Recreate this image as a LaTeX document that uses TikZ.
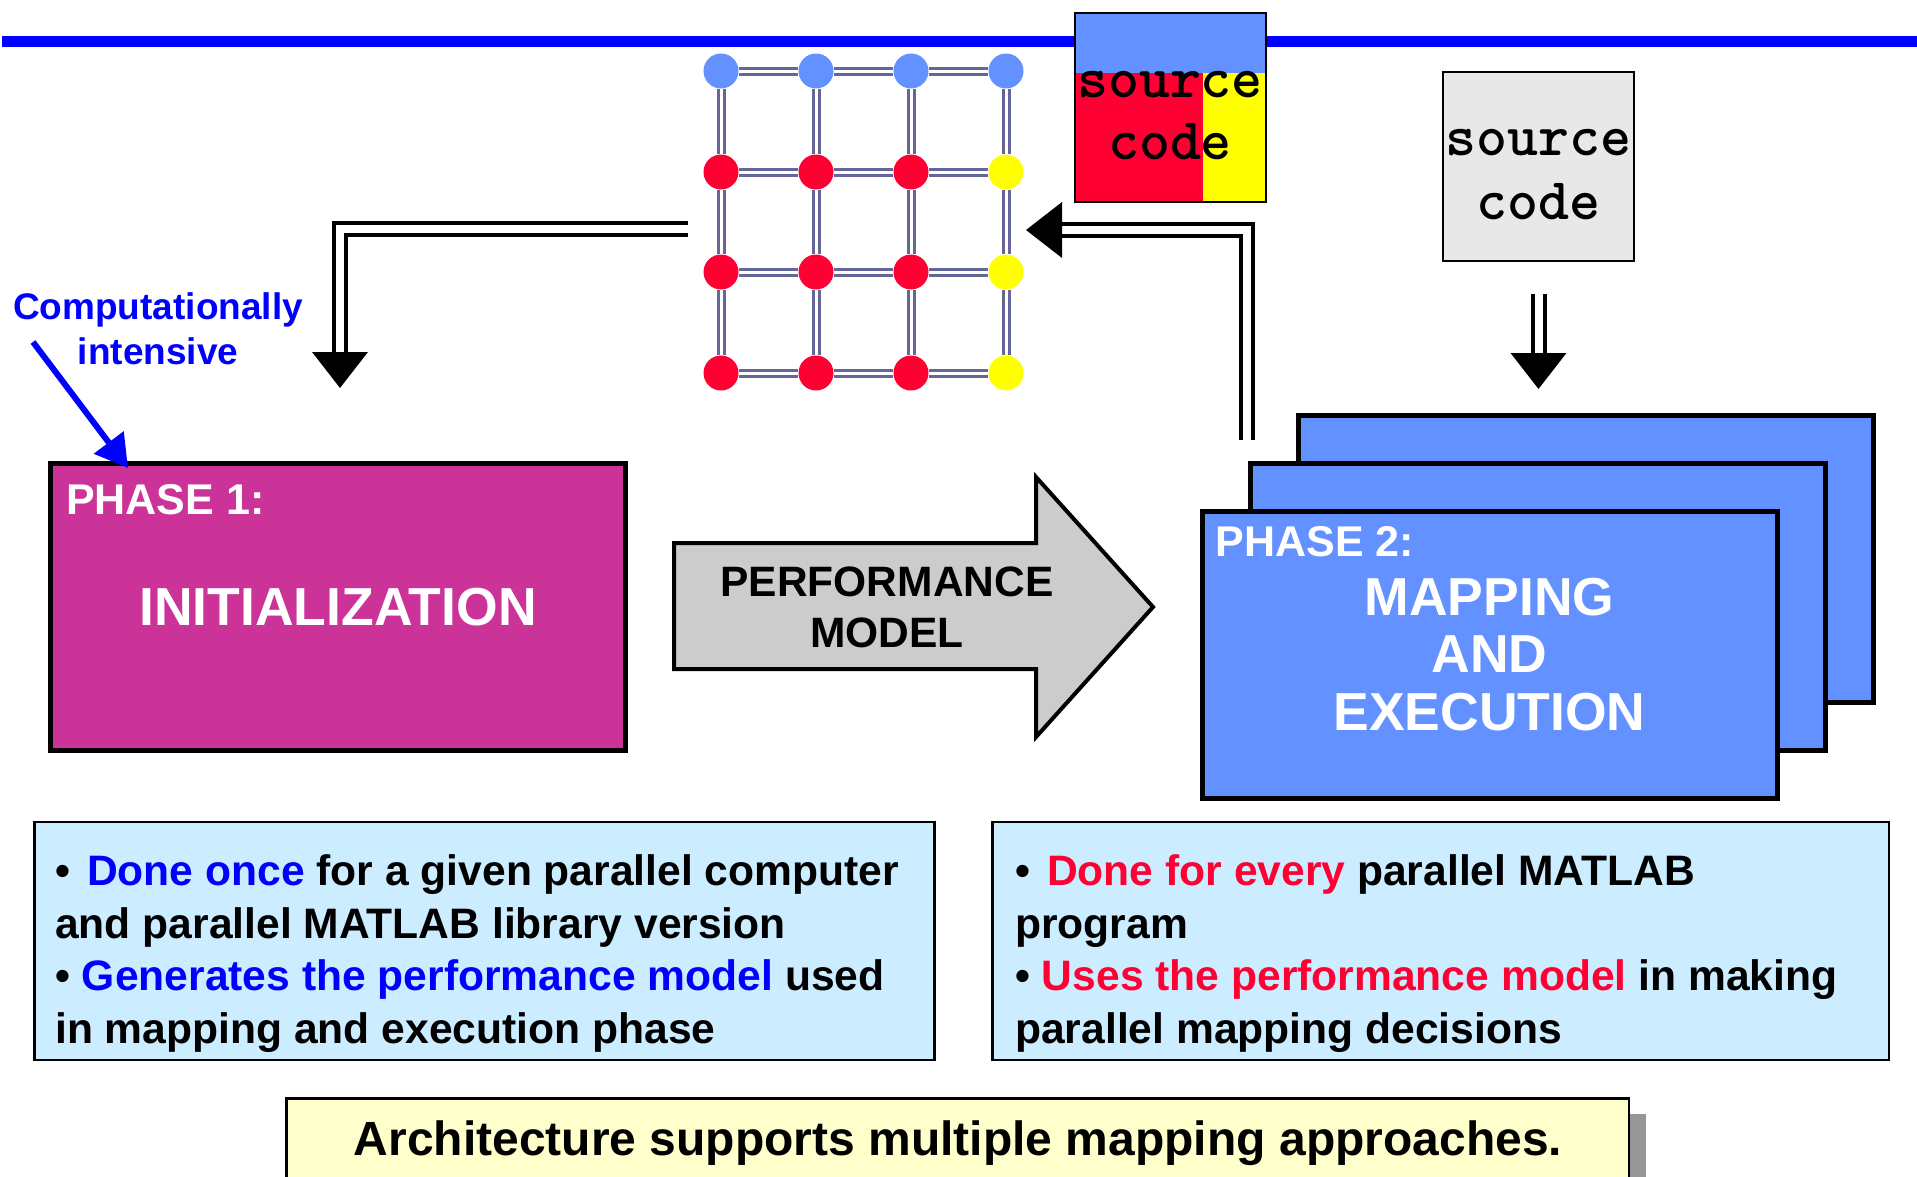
\documentclass[tikz,border=0pt]{standalone}
\usepackage{fontspec}
\setmainfont{Liberation Sans}
\usepackage{tikz}
\usetikzlibrary{arrows.meta}
\definecolor{cmagenta}{RGB}{204,51,153}
\definecolor{cblue}{RGB}{99,145,255}
\definecolor{cred}{RGB}{255,0,51}
\definecolor{cyellow}{RGB}{255,255,0}
\definecolor{cwire}{RGB}{102,102,153}
\definecolor{cgray}{RGB}{204,204,204}
\definecolor{csrc}{RGB}{232,232,232}
\definecolor{cinfo}{RGB}{204,236,255}
\definecolor{cnote}{RGB}{255,255,204}
\definecolor{cshadow}{RGB}{150,150,150}

\begin{document}
\begin{tikzpicture}[x=1pt,y=-1pt,>={Triangle[length=36pt,width=55pt]},
  phase node/.style={rectangle,draw,line width=5pt,inner sep=0pt,minimum width=575pt,
    minimum height=287pt,text=white,align=center,font=\bfseries\fontsize{53.5}{57.5}\selectfont},
  head node/.style={anchor=base west,inner sep=0pt,text=white,font=\bfseries\fontsize{43}{50}\selectfont},
  pe node/.style={circle,inner sep=0pt,minimum size=35pt},
  wire/.style={draw=cwire,line width=3pt,double=white,double distance=3pt},
  src node/.style={rectangle,draw,line width=2pt,inner sep=0pt,minimum width=191pt,minimum height=189pt},
  code text/.style={inner sep=0pt,align=center,font=\ttfamily\bfseries\fontsize{59}{62}\selectfont},
  info node/.style={rectangle,draw,fill=cinfo,line width=2.5pt,inner sep=0pt,minimum width=900pt,minimum height=238pt},
  info text/.style={anchor=north west,inner sep=0pt,align=left,font=\bfseries\fontsize{42.6}{52.5}\selectfont},
  dbl/.style={->,double,double distance=8pt,line width=4pt,line join=miter}]
  \useasboundingbox (0,0) rectangle (1917,1176);

  \draw[blue,line width=11pt] (2,41) -- (1917,41);

  % source code, split by colour
  \fill[cblue] (1074,13) rectangle (1266,73);
  \fill[cred] (1074,73) rectangle (1203,201);
  \fill[cyellow] (1203,73) rectangle (1266,201);
  \node[src node] (src1) at (1170,107) {};
  \node[code text] (src1t) at (1170,116) {source\\code};

  \node[src node,fill=csrc] (src2) at (1538.5,166) {};
  \node[code text,font=\ttfamily\bfseries\fontsize{59}{64}\selectfont] (src2t) at (1538.5,175) {source\\code};

  % processor grid
  \node[pe node,fill=cblue] (n11) at (721,71) {};
  \node[pe node,fill=cblue] (n12) at (816,71) {};
  \node[pe node,fill=cblue] (n13) at (911,71) {};
  \node[pe node,fill=cblue] (n14) at (1006,71) {};
  \node[pe node,fill=cred] (n21) at (721,172) {};
  \node[pe node,fill=cred] (n22) at (816,172) {};
  \node[pe node,fill=cred] (n23) at (911,172) {};
  \node[pe node,fill=cyellow] (n24) at (1006,172) {};
  \node[pe node,fill=cred] (n31) at (721,272) {};
  \node[pe node,fill=cred] (n32) at (816,272) {};
  \node[pe node,fill=cred] (n33) at (911,272) {};
  \node[pe node,fill=cyellow] (n34) at (1006,272) {};
  \node[pe node,fill=cred] (n41) at (721,373) {};
  \node[pe node,fill=cred] (n42) at (816,373) {};
  \node[pe node,fill=cred] (n43) at (911,373) {};
  \node[pe node,fill=cyellow] (n44) at (1006,373) {};

  \draw[wire]
    (n11) -- (n12) (n12) -- (n13) (n13) -- (n14)
    (n21) -- (n22) (n22) -- (n23) (n23) -- (n24)
    (n31) -- (n32) (n32) -- (n33) (n33) -- (n34)
    (n41) -- (n42) (n42) -- (n43) (n43) -- (n44)
    (n11) -- (n21) (n21) -- (n31) (n31) -- (n41)
    (n12) -- (n22) (n22) -- (n32) (n32) -- (n42)
    (n13) -- (n23) (n23) -- (n33) (n33) -- (n43)
    (n14) -- (n24) (n24) -- (n34) (n34) -- (n44);

  % phases
  \node[phase node,fill=cmagenta] (p1) at (338,607) {INITIALIZATION};
  \node[head node] (p1h) at ([shift={(18,53)}]p1.north west) {PHASE 1:};

  \node[phase node,fill=cblue] (p2c) at (1586,558.5) {};
  \node[phase node,fill=cblue] (p2b) at ([shift={(-48,48)}]p2c) {};
  \node[phase node,fill=cblue] (p2) at ([shift={(-96.5,96)}]p2c) {MAPPING\\AND\\EXECUTION};
  \node[head node] (p2h) at ([shift={(16,48)}]p2.north west) {PHASE 2:};

  \draw[fill=cgray,line width=4pt,line join=miter] (674,543) -- (1036,543) -- (1036,477)
    -- (1153,607) -- (1036,737) -- (1036,669) -- (674,669) -- cycle;
  \node[inner sep=0pt,align=center,font=\bfseries\fontsize{42.5}{51}\selectfont] (pm) at (887,607) {PERFORMANCE\\MODEL};

  \node[inner sep=0pt,align=center,text=blue,font=\bfseries\fontsize{37}{45}\selectfont] (ci) at (158,329) {Computationally\\intensive};
  \coordinate (ca) at (33,342);
  \coordinate (cb) at (128,468);
  \draw[blue,line width=6pt,-{Triangle[length=32pt,width=36pt]}] (ca) -- (cb);

  % feedback loop
  \coordinate (la) at (688,229);
  \coordinate (lb) at (340,388);
  \coordinate (ra) at (1247,440);
  \coordinate (rb) at (1026,230);
  \coordinate (sb) at (1538.5,389);
  \draw[dbl] (la) -| (lb);
  \draw[dbl] (ra) |- (rb);
  \draw[dbl,shorten <=32pt] (src2) -- (sb);

  % notes
  \node[info node] (tb1) at (484.25,941) {};
  \node[info text] (tb1t) at ([shift={(22,34)}]tb1.north west)
    {•\hspace{17pt}\textcolor{blue}{Done once} for a given parallel computer\\
     and parallel MATLAB library version\\
     • \textcolor{blue}{Generates the performance model} used\\
     in mapping and execution phase};
  \node[info node,minimum width=896.5pt] (tb2) at (1440.5,941) {};
  \node[info text] (tb2t) at ([shift={(24,34)}]tb2.north west)
    {•\hspace{17pt}\textcolor{cred}{Done for every} parallel MATLAB\\
     program\\
     • \textcolor{cred}{Uses the performance model} in making\\
     parallel mapping decisions};

  \fill[cshadow] (302,1114) rectangle (1646,1230);
  \node[rectangle,draw,fill=cnote,line width=2.5pt,inner sep=0pt,minimum width=1342.5pt,
    minimum height=130pt,anchor=north] (note) at (957.5,1097) {};
  \node[anchor=base,inner sep=0pt,font=\bfseries\fontsize{48}{56}\selectfont] (notet) at (958,1155)
    {Architecture supports multiple mapping approaches.};
\end{tikzpicture}
\end{document}
